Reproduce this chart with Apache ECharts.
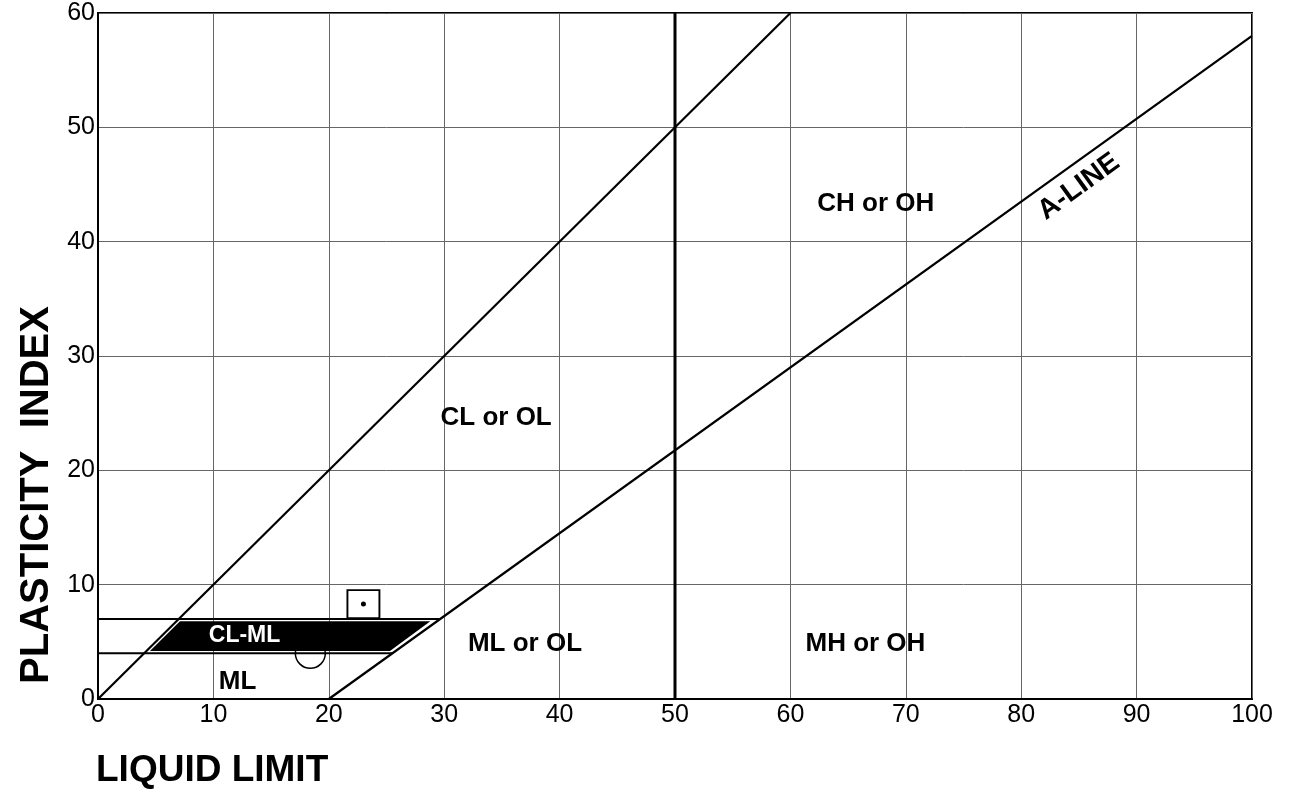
<!DOCTYPE html>
<html>
<head>
<meta charset="utf-8">
<script src="https://cdn.jsdelivr.net/npm/echarts@6/dist/echarts.min.js"></script>
<style>html,body{margin:0;padding:0;background:#fff}#c{width:1295px;height:793px}</style>
</head>
<body>
<div id="c"></div>
<script>
// ---- data ----
const uLine = [[0, 0], [60, 60]];          // PI = LL boundary
const aLine = [[20, 0], [100, 58]];        // A-line
const llFifty = [[50, 0], [50, 60]];       // LL = 50
const pi7Line = [[0, 7], [29.6, 7]];
const pi4Line = [[0, 4], [25.5, 4]];
const clmlZone = [[7.1, 6.8], [28.8, 6.8], [25.3, 4.2], [4.5, 4.2]];
const samplePoint = [[23, 8.3]];
const arcPoint = [[18.4, 4]];
const zoneNames = ['CL or OL', 'CH or OH', 'ML or OL', 'MH or OH', 'ML'];
const zoneXY = [[34.5, 24.6], [67.4, 43.3], [37.0, 4.8], [66.5, 4.8], [12.1, 1.5]];
const clmlLabel = ['CL-ML', 12.7, 5.5];
const aLineLabel = ['A-LINE', 85.0, 44.8];

const FONT = '"Liberation Sans", Arial, Helvetica, sans-serif';
const lineSeries = (d, w) => ({
  type: 'line', data: d, showSymbol: false, silent: true, z: 3,
  lineStyle: { color: '#000', width: w }
});
const textSeries = (items, z, label) => ({
  type: 'scatter', symbolSize: 1, silent: true, z: z,
  itemStyle: { color: 'rgba(0,0,0,0)', opacity: 1 },
  data: items,
  label: Object.assign({ show: true, position: 'inside', formatter: '{b}', color: '#000',
    fontWeight: 'bold', fontFamily: FONT, textBorderWidth: 0 }, label)
});

const chart = echarts.init(document.getElementById('c'));
chart.setOption({
  animation: false,
  grid: { left: 98, right: 43, top: 13, bottom: 94, show: true, borderColor: '#000', borderWidth: 2 },
  xAxis: {
    type: 'value', min: 0, max: 100, interval: 10,
    axisLine: { lineStyle: { color: '#000', width: 2 } },
    axisTick: { show: false },
    axisLabel: { color: '#000', fontSize: 25, fontFamily: FONT, margin: 4 },
    splitLine: { lineStyle: { color: '#666', width: 1 } }
  },
  yAxis: {
    type: 'value', min: 0, max: 60, interval: 10,
    axisLine: { show: true, lineStyle: { color: '#000', width: 2 } },
    axisTick: { show: false },
    axisLabel: { color: '#000', fontSize: 25, fontFamily: FONT, margin: 3 },
    splitLine: { lineStyle: { color: '#666', width: 1 } }
  },
  graphic: [
    { type: 'text', x: 96, y: 771, style: { text: 'LIQUID LIMIT', font: 'bold 37px ' + FONT, fill: '#000', textAlign: 'left', textVerticalAlign: 'middle' } },
    { type: 'text', x: 37, y: 495, rotation: Math.PI / 2, style: { text: 'PLASTICITY  INDEX', font: 'bold 40px ' + FONT, fill: '#000', textAlign: 'center', textVerticalAlign: 'middle' } }
  ],
  series: [
    lineSeries(uLine, 2.2),
    lineSeries(aLine, 2.2),
    lineSeries(llFifty, 3),
    lineSeries(pi7Line, 2),
    lineSeries(pi4Line, 2),
    {
      type: 'scatter', data: arcPoint, symbol: 'circle', symbolSize: 30, silent: true, z: 2,
      itemStyle: { color: 'rgba(0,0,0,0)', borderColor: '#000', borderWidth: 1.5, opacity: 1 }
    },
    {
      type: 'custom', data: [[0]], silent: true, z: 4,
      renderItem: (params, api) => ({
        type: 'polygon',
        shape: { points: clmlZone.map(p => api.coord(p)) },
        style: { fill: '#000' }
      })
    },
    {
      type: 'scatter', data: samplePoint, symbol: 'rect', symbolSize: [32, 28], silent: true, z: 5,
      itemStyle: { color: '#fff', borderColor: '#000', borderWidth: 1.8, opacity: 1 }
    },
    {
      type: 'scatter', data: samplePoint, symbol: 'circle', symbolSize: 5, silent: true, z: 6,
      itemStyle: { color: '#000', opacity: 1 }
    },
    textSeries(zoneNames.map((n, i) => ({ name: n, value: zoneXY[i] })), 7, { fontSize: 26 }),
    textSeries([{ name: clmlLabel[0], value: [clmlLabel[1], clmlLabel[2]] }], 8,
      { fontSize: 23, color: '#fff', textBorderColor: '#000', textBorderWidth: 1.5 }),
    textSeries([{ name: aLineLabel[0], value: [aLineLabel[1], aLineLabel[2]] }], 8,
      { fontSize: 28, rotate: 36 })
  ]
});
</script>
</body>
</html>
